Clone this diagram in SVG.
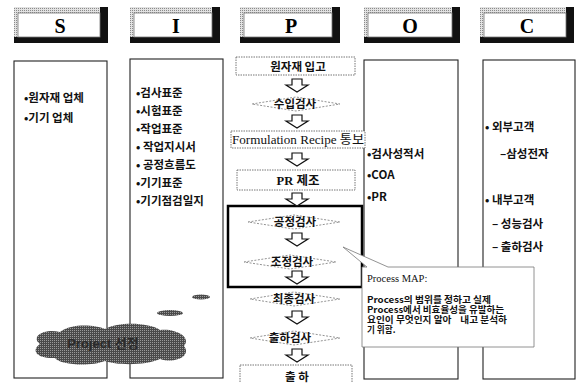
<svg xmlns="http://www.w3.org/2000/svg" width="577" height="383" viewBox="0 0 577 383">
<defs>
<pattern id="stip" width="2" height="2" patternUnits="userSpaceOnUse">
<rect width="2" height="2" fill="#e2e2e2"/>
<rect width="1" height="1" fill="#8a8a8a"/>
</pattern>
<pattern id="dark" width="2" height="2" patternUnits="userSpaceOnUse">
<rect width="2" height="2" fill="#4a4a4a"/>
<rect width="1" height="1" fill="#9a9a9a"/>
</pattern>
<path id="arr" d="M-5,0 H5 V6 H11 L0,13 L-11,6 H-5 Z"/>
</defs>
<style>
.hout{fill:url(#stip);}
.hsh{fill:#111;}
.hin{fill:#fff;stroke:#777;stroke-width:0.8;}
.hl{font-family:"Liberation Serif",serif;font-weight:bold;font-size:20px;text-anchor:middle;fill:#000;}
.col{fill:none;stroke:#222;stroke-width:1.1;}
.li{font-family:"Noto Sans CJK KR","Liberation Sans",sans-serif;font-weight:bold;font-size:11.5px;fill:#111;}
.pbox{fill:#fff;stroke:#666;stroke-width:0.9;stroke-dasharray:1.5 1;}
.dia{fill:none;stroke:#777;stroke-width:0.8;stroke-dasharray:2 1.5;}
.pl{font-family:"Noto Sans CJK KR",sans-serif;font-weight:bold;font-size:11.5px;text-anchor:middle;fill:#111;}
.ser{font-family:"Liberation Serif","Noto Sans CJK KR",serif;font-size:12.5px;text-anchor:middle;fill:#111;}
.arrow{fill:#fff;stroke:#111;stroke-width:1.2;}
.thick{fill:none;stroke:#000;stroke-width:2.5;}
.co{fill:#fff;stroke:#777;stroke-width:0.8;}
.ct{font-family:"Noto Sans CJK KR",sans-serif;font-weight:bold;font-size:8.6px;fill:#111;}
</style>
<rect width="577" height="383" fill="#fff"/>

<!-- headers -->
<g id="hdr-S">
<rect class="hout" x="14" y="7" width="94" height="36"/>
<rect class="hsh" x="100" y="7" width="8" height="36"/>
<rect class="hsh" x="14" y="37" width="94" height="6"/>
<rect class="hin" x="18" y="13" width="82" height="24"/>
<text class="hl" x="60" y="33">S</text>
</g>
<g id="hdr-I">
<rect class="hout" x="130" y="7" width="90" height="36"/>
<rect class="hsh" x="212" y="7" width="8" height="36"/>
<rect class="hsh" x="130" y="37" width="90" height="6"/>
<rect class="hin" x="134" y="13" width="78" height="24"/>
<text class="hl" x="176" y="33">I</text>
</g>
<g id="hdr-P">
<rect class="hout" x="240" y="7" width="100" height="36"/>
<rect class="hsh" x="332" y="7" width="8" height="36"/>
<rect class="hsh" x="240" y="37" width="100" height="6"/>
<rect class="hin" x="244" y="13" width="88" height="24"/>
<text class="hl" x="291" y="33">P</text>
</g>
<g id="hdr-O">
<rect class="hout" x="364" y="7" width="96" height="36"/>
<rect class="hsh" x="452" y="7" width="8" height="36"/>
<rect class="hsh" x="364" y="37" width="96" height="6"/>
<rect class="hin" x="368" y="13" width="84" height="24"/>
<text class="hl" x="410" y="33">O</text>
</g>
<g id="hdr-C">
<rect class="hout" x="480" y="7" width="94" height="36"/>
<rect class="hsh" x="566" y="7" width="8" height="36"/>
<rect class="hsh" x="480" y="37" width="94" height="6"/>
<rect class="hin" x="484" y="13" width="82" height="24"/>
<text class="hl" x="527" y="33">C</text>
</g>

<!-- S column -->
<g id="col-S">
<rect class="col" x="14" y="61" width="93" height="317"/>
<text class="li" x="24" y="102">•원자재 업체</text>
<text class="li" x="24" y="122">•기기 업체</text>
</g>

<!-- I column -->
<g id="col-I">
<rect class="col" x="130" y="59" width="93" height="319"/>
<text class="li" x="136" y="97">•검사표준</text>
<text class="li" x="136" y="115">•시험표준</text>
<text class="li" x="136" y="133">•작업표준</text>
<text class="li" x="136" y="151">• 작업지시서</text>
<text class="li" x="136" y="169">• 공정흐름도</text>
<text class="li" x="136" y="187">•기기표준</text>
<text class="li" x="136" y="205">•기기점검일지</text>
</g>

<!-- O column -->
<g id="col-O">
<rect class="col" x="364" y="60" width="94" height="319"/>
<text class="li" x="367" y="158">•검사성적서</text>
<text class="li" x="367" y="179">•COA</text>
<text class="li" x="367" y="201">•PR</text>
</g>

<!-- C column -->
<g id="col-C">
<rect class="col" x="483" y="60" width="92" height="319"/>
<text class="li" x="485" y="131">• 외부고객</text>
<text class="li" x="500" y="158">–삼성전자</text>
<text class="li" x="485" y="204">• 내부고객</text>
<text class="li" x="492" y="228">– 성능검사</text>
<text class="li" x="492" y="251">– 출하검사</text>
</g>

<!-- P column flow -->
<g id="bracket">
<rect class="thick" x="228" y="206" width="134" height="81"/>
</g>
<g id="n-raw">
<rect class="pbox" x="236" y="57" width="119" height="18"/>
<text class="pl" x="298" y="71" font-size="13">원자재 입고</text>
</g>
<g id="n-incoming">
<polygon class="dia" points="252,104 296,97 340,104 296,111"/>
<text class="pl" x="295" y="108">수입검사</text>
</g>
<g id="n-recipe">
<rect class="pbox" x="231" y="131" width="134" height="17"/>
<text class="ser" x="298" y="144" textLength="132" lengthAdjust="spacingAndGlyphs">Formulation Recipe 통보</text>
</g>
<g id="n-pr">
<rect class="pbox" x="237" y="170" width="118" height="20"/>
<text class="ser" x="298" y="185" font-weight="bold" font-size="14">PR 제조</text>
</g>
<g id="n-process">
<polygon class="dia" points="248,222 294,215 340,222 294,229"/>
<text class="pl" x="295" y="226">공정검사</text>
</g>
<g id="n-adjust">
<polygon class="dia" points="244,262 290,255 336,262 290,269"/>
<text class="pl" x="292" y="266">조정검사</text>
</g>
<g id="n-final">
<polygon class="dia" points="250,299 294,292 340,299 294,306"/>
<text class="pl" x="294" y="303">최종검사</text>
</g>
<g id="n-ship-insp">
<polygon class="dia" points="250,338 294,331 340,338 294,345"/>
<text class="pl" x="290" y="342">출하검사</text>
</g>
<g id="n-ship">
<rect class="pbox" x="240" y="365" width="112" height="24"/>
<text class="pl" x="297" y="381">출 하</text>
</g>

<!-- connectors -->
<g id="connectors">
<use href="#arr" class="arrow" x="297" y="79"/>
<use href="#arr" class="arrow" x="297" y="115"/>
<use href="#arr" class="arrow" x="297" y="153"/>
<use href="#arr" class="arrow" x="297" y="193"/>
<use href="#arr" class="arrow" x="297" y="233"/>
<use href="#arr" class="arrow" x="297" y="271"/>
<use href="#arr" class="arrow" x="297" y="311"/>
<use href="#arr" class="arrow" x="297" y="349"/>
</g>

<!-- callout -->
<g id="callout">
<path class="co" d="M362,267 H367 L343,247 L388,267 H534 V347 H362 Z"/>
<text x="367" y="282" font-family="Liberation Serif,serif" font-size="10.5" fill="#111">Process MAP:</text>
<text class="ct" x="367" y="303" textLength="124" lengthAdjust="spacingAndGlyphs">Process의 범위를 정하고 실제</text>
<text class="ct" x="367" y="313" textLength="137" lengthAdjust="spacingAndGlyphs">Process에서 비효율성을 유발하는</text>
<text class="ct" x="367" y="323" xml:space="preserve" textLength="140" lengthAdjust="spacingAndGlyphs">요인이 무엇인지 알아    내고 분석하</text>
<text class="ct" x="367" y="333">기 위함.</text>
</g>

<!-- cloud -->
<g id="cloud">
<ellipse cx="201" cy="297" rx="9" ry="2.6" fill="url(#dark)"/>
<ellipse cx="170" cy="313" rx="13" ry="3" fill="url(#dark)"/>
<path fill="url(#dark)" d="M40,344 C30,336 45,328 60,332 C72,323 95,325 105,329 C120,321 150,323 160,330 C175,328 192,337 184,346 C192,356 175,364 160,359 C145,366 115,365 105,361 C90,367 60,365 55,358 C38,359 30,351 40,344 Z"/>
<text x="103" y="348" font-family="Liberation Sans,Noto Sans CJK KR,sans-serif" font-weight="bold" font-size="13" text-anchor="middle" fill="#2a2a2a">Project 선정</text>
</g>
</svg>
